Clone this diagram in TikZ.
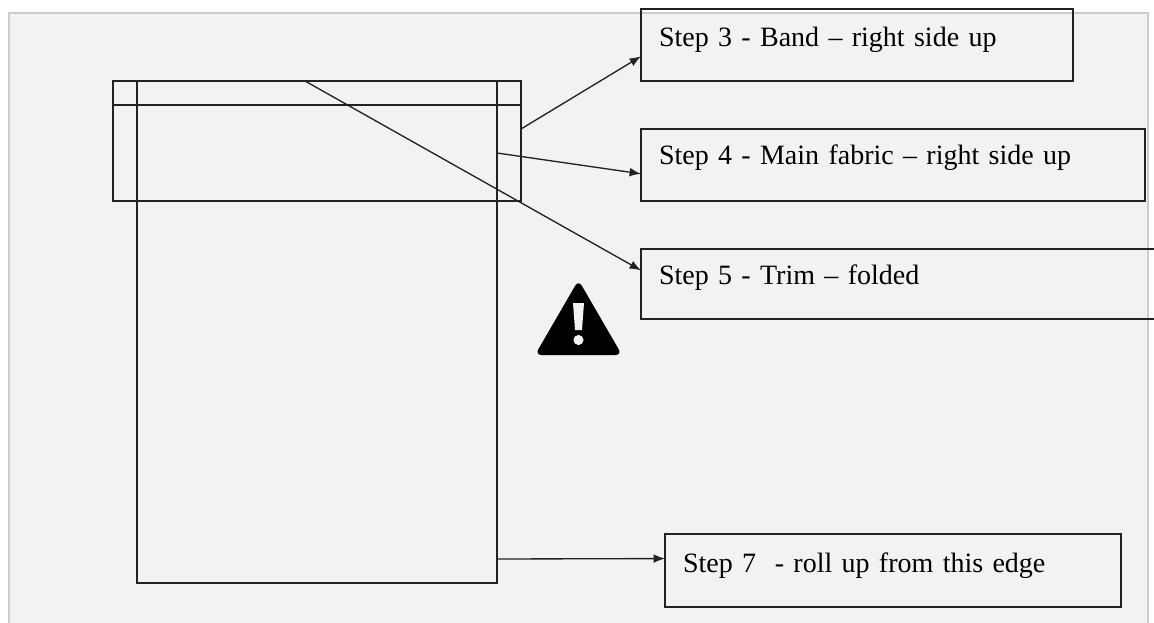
\documentclass[tikz,border=0pt]{standalone}
\usepackage{fontspec}
\usetikzlibrary{arrows.meta}
\setmainfont{Liberation Serif}
\definecolor{panel}{HTML}{F2F2F2}
\definecolor{frame}{HTML}{CCCCCC}
\definecolor{ink}{HTML}{222222}

\begin{document}
\begin{tikzpicture}[
        x=0.75pt, y=-0.75pt,
        edge/.style={ink, line width=0.85pt},
        arr/.style={ink, line width=1pt, -{Latex[length=8.5pt,width=6.5pt]}},
        stepbox/.style={draw=ink, line width=0.85pt, outer sep=0pt, inner xsep=13.5pt, inner ysep=0pt,
            minimum height=54pt, align=left, text height=14pt, text depth=14pt,
            font=\fontsize{21}{24}\selectfont}
        ]
        \clip (0,0) rectangle (1154,622);
        \fill[white] (0,0) rectangle (1154,622);
        \filldraw[fill=panel, draw=frame, line width=1pt] (9,13) rectangle (1148,640);

        % the band and the main fabric
        \draw[edge] (113,81) rectangle (521,201);
        \draw[edge] (137,81) rectangle (497,583);
        \draw[edge] (113,105) -- (521,105);

        % the boxes
        \node[stepbox, minimum width=324pt, text width=297pt, text height=14.75pt, text depth=13.25pt] (s3) at (857,45) {Step 3 - Band – right side up};
        \node[stepbox, minimum width=378pt, text width=351pt, text height=13.25pt, text depth=14.75pt] (s4) at (893,165) {Step 4 - Main fabric – right side up};
        \node[stepbox, minimum width=390pt, text width=363pt, minimum height=52.5pt] (s5) at (901,284) {Step 5 - Trim – folded};
        \node[stepbox, minimum width=342pt, text width=315pt, minimum height=54.75pt, text height=15.5pt, text depth=12.5pt] (s7) at (893,570.5) {Step 7 \ - roll up from this edge};

        \coordinate (f3) at (521,129);
        \coordinate (f4) at (497,153);
        \coordinate (f5) at (305,81);
        \coordinate (f7) at (497,559);

        \draw[arr] (f3) -- (s3.183.2);
        \draw[arr] (f4) -- (s4.182.7);
        \draw[arr] (f5) -- (s5.177.6);
        \draw[arr] (f7) -- (s7.177.1);

        % warning sign
        \fill[black, rounded corners=5pt] (578.5,280) -- (622,355) -- (535,355) -- cycle;
        \fill[panel] (573,303) -- (584,303) -- (582,330) -- (575,330) -- cycle;
        \fill[panel] (578.5,340) circle (3.8pt);
    \end{tikzpicture}
\end{document}
